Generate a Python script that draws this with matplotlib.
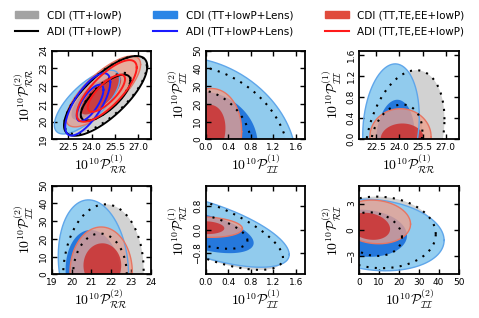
import numpy as np
import matplotlib
matplotlib.use('Agg')
import matplotlib.pyplot as plt
from matplotlib.patches import Patch
from matplotlib.lines import Line2D

plt.rcParams['mathtext.fontset'] = 'cm'
plt.rcParams['font.family'] = 'DejaVu Sans'

# contour regions, one ellipse per region:
# (centre x, centre y, half width x, half width y, correlation)
# panels: (RR1,RR2) (II1,II2) (RR1,II1) / (RR2,II2) (II1,RI1) (II2,RI2)
gray95 = [(24.9, 21.5, 2.65, 2.2, 0.74), (0, 0, 1.467, 41.8, -0.25), (24.35, 0, 2.56, 1.31, 0.29),
          (21.6, 0, 2.03, 39.5, 0.05), (0, -0.02, 1.37, 1.35, -0.7), (10, -0.3, 28.5, 4.1, -0.05)]
gray68 = [(24.9, 21.4, 1.6, 1.35, 0.74), (0, 0, 0.82, 28, -0.2), (23.83, 0, 1.66, 0.66, 0.22),
          (21.43, 0, 1.35, 23, 0.0), (0, -0.03, 0.74, 0.62, -0.55), (7, -0.5, 14.5, 2.5, -0.15)]
blue95 = [(23.7, 21.1, 2.1, 1.8, 0.72), (0, 0, 1.6, 46.2, -0.25), (23.47, 0.25, 1.82, 1.18, 0.15),
          (21.1, 5, 1.77, 37, -0.14), (0, 0.0, 1.48, 1.28, -0.66), (8, -0.6, 34.7, 4.1, -0.15)]
blue68 = [(23.9, 21.2, 1.2, 1.1, 0.72), (0, 0, 0.92, 27, -0.1), (23.75, 0, 1.25, 0.75, 0.1),
          (21.1, 0, 1.4, 25, -0.1), (0, -0.1, 0.85, 0.7, -0.5), (3, -0.4, 21, 2.7, -0.1)]
red95 = [(24.75, 21.7, 2.4, 2.0, 0.76), (0, 0, 0.637, 28.7, 0.15), (24.08, 0.05, 1.97, 0.53, 0.0),
         (21.49, 1, 1.57, 25.7, 0.0), (0, 0.09, 0.65, 0.35, -0.15), (8, 0.9, 17.8, 2.5, -0.1)]
red68 = [(24.6, 21.5, 1.3, 1.1, 0.76), (0, 3, 0.35, 16.5, 0.2), (24.2, 0, 1.4, 0.3, 0.0),
         (21.55, 5, 0.95, 12.5, 0.0), (0, 0.07, 0.33, 0.22, -0.1), (5, 0.4, 10.5, 1.55, -0.2)]

# adiabatic contours, first panel only (95%, 68%)
adi_black = [(24.9, 21.45, 2.68, 2.25, 0.74), (24.9, 21.35, 1.6, 1.3, 0.74)]
adi_blue = [(23.75, 20.97, 1.45, 1.76, 0.72), (23.9, 21.05, 0.86, 1.03, 0.72)]
adi_red = [(24.97, 21.73, 1.93, 1.74, 0.76), (24.95, 21.6, 1.2, 1.05, 0.76)]

rr1 = r'$10^{10}\mathcal{P}^{(1)}_{\mathcal{RR}}$'
rr2 = r'$10^{10}\mathcal{P}^{(2)}_{\mathcal{RR}}$'
ii1 = r'$10^{10}\mathcal{P}^{(1)}_{\mathcal{II}}$'
ii2 = r'$10^{10}\mathcal{P}^{(2)}_{\mathcal{II}}$'
ri1 = r'$10^{10}\mathcal{P}^{(1)}_{\mathcal{RI}}$'
ri2 = r'$10^{10}\mathcal{P}^{(2)}_{\mathcal{RI}}$'
x_labels = [rr1, ii1, rr1, rr2, ii1, ii2]
y_labels = [rr2, ii2, ii1, ii2, ri1, ri2]

x_lims = [(21.43, 27.82), (0, 1.76), (21.43, 27.82), (19, 24), (0, 1.76), (0, 50)]
y_lims = [(19, 24), (0, 50), (0, 1.68), (0, 50), (-1.52, 1.50), (-5.1, 5.05)]
x_ticks = [[22.5, 24.0, 25.5, 27.0], [0.0, 0.4, 0.8, 1.2, 1.6], [22.5, 24.0, 25.5, 27.0],
           [19, 20, 21, 22, 23, 24], [0.0, 0.4, 0.8, 1.2, 1.6], [0, 10, 20, 30, 40, 50]]
y_ticks = [[19, 20, 21, 22, 23, 24], [0, 10, 20, 30, 40, 50], [0.0, 0.4, 0.8, 1.2, 1.6],
           [0, 10, 20, 30, 40, 50], [-0.8, 0.0, 0.8], [-3, 0, 3]]
x_fmt = ['%.1f', '%.1f', '%.1f', '%d', '%.1f', '%d']
y_fmt = ['%d', '%d', '%.1f', '%d', '%.1f', '%d']

legend_labels = ['CDI (TT+lowP)', 'ADI (TT+lowP)', 'CDI (TT+lowP+Lens)', 'ADI (TT+lowP+Lens)',
                 'CDI (TT,TE,EE+lowP)', 'ADI (TT,TE,EE+lowP)']


def ellipse(cx, cy, hx, hy, rho, n=400):
    t = np.linspace(0, 2 * np.pi, n)
    x = cx + hx * np.cos(t)
    y = cy + hy * (rho * np.cos(t) + np.sqrt(1 - rho ** 2) * np.sin(t))
    return x, y


fig = plt.figure(figsize=(4.79, 3.18), dpi=100)
lefts = [51.7 / 479, 205.7 / 479, 359.3 / 479]
bottoms = [1 - 139.3 / 318, 1 - 274.3 / 318]
w, h = 99.3 / 479, 88.6 / 318

for i in range(6):
    ax = fig.add_axes([lefts[i % 3], bottoms[i // 3], w, h])
    ax.fill(*ellipse(*gray95[i]), color='#d2d2d2', lw=0)
    ax.fill(*ellipse(*gray68[i]), color='#a9a9a9', lw=0)
    ax.fill(*ellipse(*blue95[i]), color='#8ccbf0', alpha=0.92, lw=0)
    ax.plot(*ellipse(*blue95[i]), color='#5fa6ea', lw=1)
    ax.fill(*ellipse(*blue68[i]), color='#1f74dc', alpha=0.95, lw=0)
    ax.fill(*ellipse(*red95[i]), color='#f0a08c', alpha=0.76, lw=0)
    ax.plot(*ellipse(*red95[i]), color='#e77562', lw=1)
    ax.fill(*ellipse(*red68[i]), color='#cc3030', alpha=0.85, lw=0)
    ax.plot(*ellipse(*gray95[i]), color='black', lw=1.5, ls=(0, (1, 3)))
    ax.plot(*ellipse(*gray68[i]), color='black', lw=1.5, ls=(0, (1, 3)))
    if i == 0:
        for spec, col in [(adi_black, 'black'), (adi_blue, '#1a1aff'), (adi_red, '#ff1a1a')]:
            for e in spec:
                ax.plot(*ellipse(*e), color=col, lw=1.4)
    ax.set_xlim(x_lims[i])
    ax.set_ylim(y_lims[i])
    ax.set_xticks(x_ticks[i])
    ax.set_yticks(y_ticks[i])
    ax.set_xticklabels([x_fmt[i] % v for v in x_ticks[i]])
    ax.set_yticklabels([(y_fmt[i] % v).replace('-', '\u2212') for v in y_ticks[i]],
                       rotation=90, va='center')
    ax.tick_params(direction='in', top=True, right=True, length=3.5, width=1,
                   labelsize=6.5, pad=2.5)
    for s in ax.spines.values():
        s.set_linewidth(1.3)
    ax.set_xlabel(x_labels[i], fontsize=10, labelpad=1)
    ax.set_ylabel(y_labels[i], fontsize=10, labelpad=2)

handles = [Patch(color='#a3a3a3'), Line2D([], [], color='black', lw=1.5),
           Patch(color='#2a85e6'), Line2D([], [], color='#1a1aff', lw=1.5),
           Patch(color='#e04b3c'), Line2D([], [], color='#ff1a1a', lw=1.5)]
fig.legend(handles, legend_labels, loc='upper center', bbox_to_anchor=(0.5, 1.0), ncol=3,
           frameon=False, fontsize=7.5, handlelength=2.3, handletextpad=0.8,
           columnspacing=3.05, labelspacing=0.6, borderaxespad=0.6)

fig.savefig('out.png', dpi=100)
